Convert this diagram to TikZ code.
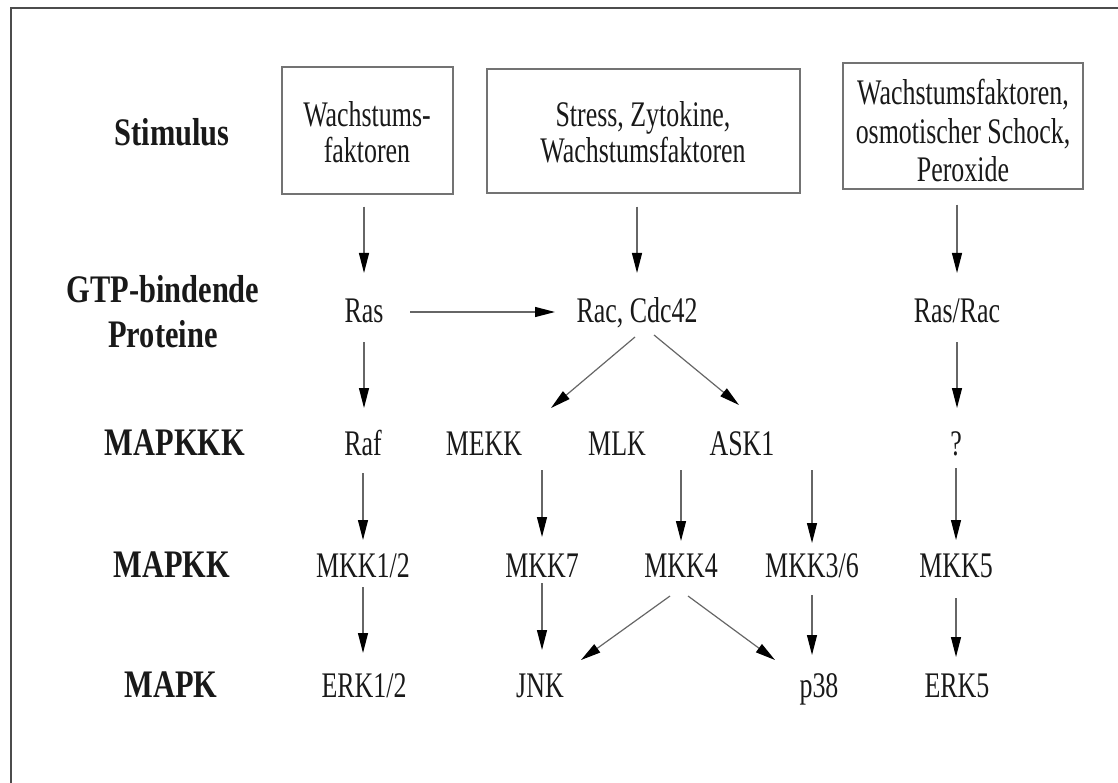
\documentclass[tikz,border=0pt]{standalone}
\usepackage{fontspec}
\setmainfont{Liberation Serif}[FakeStretch=0.72]
\newfontfamily\labfont{Liberation Serif}[FakeStretch=0.78]
\usetikzlibrary{arrows.meta,calc}
\begin{document}
\begin{tikzpicture}[x=1pt,y=-1pt,
  lab/.style={font=\labfont\bfseries\fontsize{39}{45}\selectfont, inner sep=0pt, align=center, text=black!90},
  t/.style={font=\fontsize{36}{36}\selectfont, inner sep=0pt, anchor=base, text=black!90},
  box/.style={draw=black!55, line width=1.4pt, inner sep=0pt},
  btext/.style={inner sep=0pt, align=center, text=black!90},
  arr/.style={draw=black!60, line width=1.2pt, -{Triangle[length=20pt,width=10pt,color=black,fill=black]}}
]
\useasboundingbox (0,0) rectangle (1118,783);
\draw[black!70, line width=1.5pt] (11,783) -- (11,8) -- (1118,8);

% row labels
\node[lab, anchor=base] (lstim) at (172,146) {Stimulus};
\node[lab, anchor=center] (lgtp) at (163,312) {GTP-bindende\\Proteine};
\node[lab, anchor=base] (lmapkkk) at (175,455) {MAPKKK};
\node[lab, anchor=base] (lmapkk) at (172,577) {MAPKK};
\node[lab, anchor=base] (lmapk) at (171,697) {MAPK};

% stimulus boxes
\node[box, minimum width=171pt, minimum height=127pt] (s1) at (367.5,130.5) {};
\node[box, minimum width=313pt, minimum height=124pt] (s2) at (643.5,131) {};
\node[box, minimum width=240pt, minimum height=126pt] (s3) at (963,126) {};
\node[btext, font=\fontsize{36}{36}\selectfont] (s1t) at (367,132.5) {Wachstums-\\faktoren};
\node[btext, font=\fontsize{36}{36}\selectfont] (s2t) at (643,132.5) {Stress, Zytokine,\\Wachstumsfaktoren};
\node[btext, font=\fontsize{36}{38.5}\selectfont] (s3t) at (963,131) {Wachstumsfaktoren,\\osmotischer Schock,\\Peroxide};

% GTP-binding proteins
\node[t] (ras) at (364,323) {Ras};
\node[t] (rac) at (637,323) {Rac, Cdc42};
\node[t] (rasrac) at (957,323) {Ras/Rac};

% MAPKKK
\node[t] (raf) at (363,455) {Raf};
\node[t] (mekk) at (484,455) {MEKK};
\node[t] (mlk) at (617,455) {MLK};
\node[t] (ask) at (742,455) {ASK1};
\node[t] (q) at (956,455) {?};

% MAPKK
\node[t] (mkk12) at (363,577) {MKK1/2};
\node[t] (mkk7) at (542,577) {MKK7};
\node[t] (mkk4) at (681,577) {MKK4};
\node[t] (mkk36) at (812,577) {MKK3/6};
\node[t] (mkk5) at (956,577) {MKK5};

% MAPK
\node[t] (erk12) at (364,697) {ERK1/2};
\node[t] (jnk) at (540,697) {JNK};
\node[t] (p38) at (819,697) {p38};
\node[t] (erk5) at (957,697) {ERK5};

% connectors
\draw[arr, shorten <=12pt, shorten >=50pt] (s1.south -| ras.base) -- (ras.base);
\draw[arr, shorten <=13pt, shorten >=50pt] (s2.south -| rac.base) -- (rac.base);
\draw[arr, shorten <=15pt, shorten >=50pt] (s3.south -| rasrac.base) -- (rasrac.base);
\draw[arr] ($(ras.base)+(46,-11)$) -- ($(rac.base)+(-82,-11)$);
\draw[arr, shorten <=19pt, shorten >=47pt] (ras.base) -- (ras.base |- raf.base);
\draw[arr] ($(rac.base)+(-2,14)$) -- ($(mekk.base)+(67,-47)$);
\draw[arr] ($(rac.base)+(17,12)$) -- ($(ask.base)+(-3,-50)$);
\draw[arr, shorten <=19pt, shorten >=47pt] (rasrac.base) -- (rasrac.base |- q.base);
\draw[arr, shorten <=18pt, shorten >=37pt] (raf.base) -- (raf.base |- mkk12.base);
\draw[arr, shorten <=15pt, shorten >=40pt] (mekk.base -| mkk7.base) -- (mkk7.base);
\draw[arr, shorten <=15pt, shorten >=36pt] (mlk.base -| mkk4.base) -- (mkk4.base);
\draw[arr, shorten <=15pt, shorten >=34pt] (ask.base -| mkk36.base) -- (mkk36.base);
\draw[arr, shorten <=13pt, shorten >=37pt] (q.base) -- (q.base |- mkk5.base);
\draw[arr, shorten <=10pt, shorten >=44pt] (mkk12.base) -- (mkk12.base |- erk12.base);
\draw[arr, shorten <=6pt, shorten >=47pt] (mkk7.base) -- (mkk7.base |- jnk.base);
\draw[arr] ($(mkk4.base)+(-11,19)$) -- ($(jnk.base)+(41,-37)$);
\draw[arr] ($(mkk4.base)+(7,19)$) -- ($(p38.base)+(-44,-37)$);
\draw[arr, shorten <=18pt, shorten >=42pt] (mkk36.base) -- (mkk36.base |- p38.base);
\draw[arr, shorten <=21pt, shorten >=40pt] (mkk5.base) -- (mkk5.base |- erk5.base);
\end{tikzpicture}
\end{document}
